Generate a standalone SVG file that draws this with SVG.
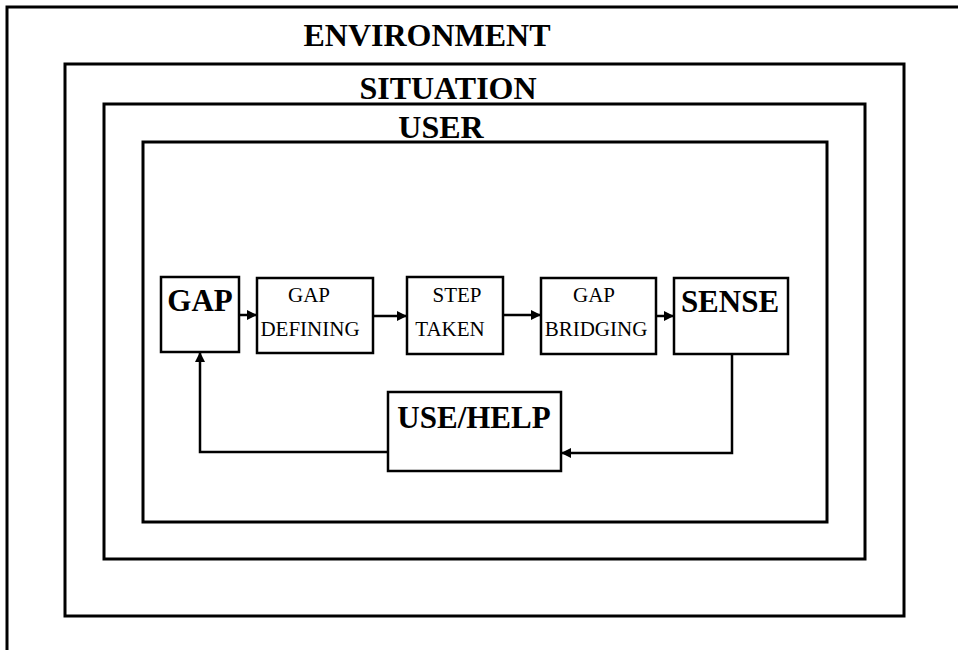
<svg xmlns="http://www.w3.org/2000/svg" width="958" height="650" viewBox="0 0 958 650">
<style>
.frame{fill:none;stroke:#000;stroke-width:3}
.box{fill:#fff;stroke:#000;stroke-width:2.5}
.big{font-family:"Liberation Serif","Times New Roman",serif;font-weight:bold;fill:#000;text-anchor:middle}
.small{font-family:"Liberation Serif","Times New Roman",serif;font-size:21px;fill:#000;text-anchor:middle}
.conn{fill:none;stroke:#000;stroke-width:2.5}
</style>
<defs>
<marker id="arr" markerUnits="userSpaceOnUse" markerWidth="11" markerHeight="10" refX="10" refY="5" orient="auto">
<path d="M0,0 L10,5 L0,10 z" fill="#000"/>
</marker>
</defs>
<rect width="958" height="650" fill="#fff"/>
<g id="environment">
<path class="frame" d="M7,650 V7 H958"/>
<text class="big" x="427" y="46" font-size="32">ENVIRONMENT</text>
</g>
<g id="situation">
<rect class="frame" x="65" y="64" width="839" height="552"/>
<text class="big" x="448" y="99" font-size="32">SITUATION</text>
</g>
<g id="user">
<rect class="frame" x="104" y="104" width="761" height="455"/>
<text class="big" x="441" y="138" font-size="32">USER</text>
</g>
<g id="inner">
<rect class="frame" x="143" y="142" width="684" height="380"/>
</g>
<g id="connectors">
<line class="conn" x1="239" y1="315" x2="257" y2="315" marker-end="url(#arr)"/>
<line class="conn" x1="373" y1="316" x2="407" y2="316" marker-end="url(#arr)"/>
<line class="conn" x1="503" y1="315" x2="541" y2="315" marker-end="url(#arr)"/>
<line class="conn" x1="656" y1="316" x2="674" y2="316" marker-end="url(#arr)"/>
<path class="conn" d="M732,354 V453 H561" marker-end="url(#arr)"/>
<path class="conn" d="M388,452 H200 V352" marker-end="url(#arr)"/>
</g>
<g id="gap">
<rect class="box" x="161" y="277" width="78" height="75"/>
<text class="big" x="200" y="311" font-size="31">GAP</text>
</g>
<g id="gap-defining">
<rect class="box" x="257" y="278" width="116" height="75"/>
<text class="small" x="309" y="302">GAP</text>
<text class="small" x="310" y="336">DEFINING</text>
</g>
<g id="step-taken">
<rect class="box" x="407" y="277" width="96" height="77"/>
<text class="small" x="457" y="302">STEP</text>
<text class="small" x="450" y="336">TAKEN</text>
</g>
<g id="gap-bridging">
<rect class="box" x="541" y="278" width="115" height="76"/>
<text class="small" x="594" y="302">GAP</text>
<text class="small" x="596" y="336">BRIDGING</text>
</g>
<g id="sense">
<rect class="box" x="674" y="278" width="114" height="76"/>
<text class="big" x="730" y="312" font-size="31">SENSE</text>
</g>
<g id="use-help">
<rect class="box" x="388" y="392" width="173" height="79"/>
<text class="big" x="474" y="428" font-size="31">USE/HELP</text>
</g>
</svg>
